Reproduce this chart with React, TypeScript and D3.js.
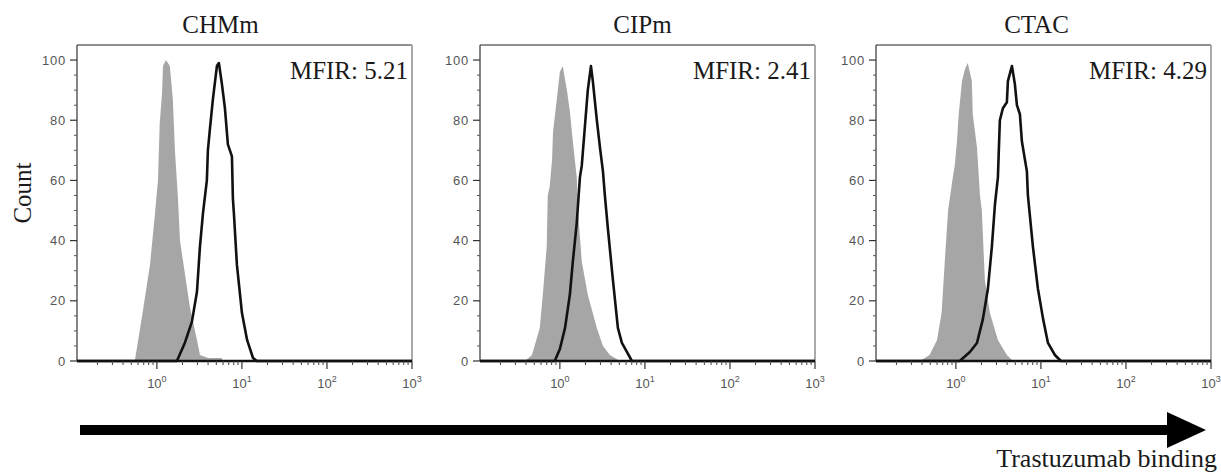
import React from "react";
import * as d3 from "d3";

// ---- data ----
const panelTitles = ["CHMm", "CIPm", "CTAC"];
const mfirValues = ["5.21", "2.41", "4.29"];

// control (grey, filled) histograms: fluorescence intensity / count (% of mode)
const chmmControlX = [0.55, 0.68, 0.83, 0.95, 1.03, 1.08, 1.15, 1.18, 1.28, 1.42, 1.54, 1.63, 1.77, 1.87, 2.44, 2.96, 3.21, 4.0, 5.82, 5.9];
const chmmControlY = [0, 16, 32, 49, 60, 79, 89, 98, 100, 98, 87, 70, 54, 40, 18, 7, 2, 1, 1, 0];
const cipmControlX = [0.39, 0.47, 0.58, 0.63, 0.70, 0.72, 0.76, 0.81, 0.83, 0.92, 1.0, 1.08, 1.21, 1.31, 1.42, 1.58, 1.63, 1.81, 2.13, 2.72, 3.21, 3.87, 5.08];
const cipmControlY = [0, 2, 11, 22, 38, 55, 58, 67, 76, 87, 96, 98, 90, 83, 73, 61, 50, 33, 22, 11, 5, 2, 0];
const ctacControlX = [0.38, 0.49, 0.60, 0.68, 0.74, 0.81, 0.92, 0.97, 1.03, 1.08, 1.18, 1.28, 1.38, 1.54, 1.58, 1.77, 1.92, 2.02, 2.19, 2.51, 3.12, 3.98, 4.69];
const ctacControlY = [0, 2, 7, 16, 33, 50, 61, 65, 73, 82, 93, 97, 99, 93, 82, 71, 55, 50, 27, 16, 7, 2, 0];

// stained (black outline) histograms
const chmmStainX = [1.72, 2.13, 2.58, 2.96, 3.21, 3.48, 3.87, 3.98, 4.2, 4.56, 5.08, 5.36, 5.82, 6.31, 6.84, 7.63, 7.83, 8.05, 8.73, 10.0, 11.5, 13.5, 15.0];
const chmmStainY = [0, 6, 13, 23, 38, 49, 60, 70, 77, 87, 98, 99, 92, 84, 72, 68, 54, 49, 32, 16, 7, 1, 0];
const cipmStainX = [0.87, 1.0, 1.15, 1.31, 1.42, 1.58, 1.72, 1.81, 1.97, 2.13, 2.32, 2.44, 2.72, 2.96, 3.21, 3.38, 3.67, 4.2, 4.81, 5.36, 6.14, 7.03];
const cipmStainY = [0, 4, 11, 22, 33, 46, 61, 65, 78, 90, 98, 93, 80, 71, 63, 55, 44, 27, 11, 6, 3, 0];
const ctacStainX = [1.11, 1.46, 1.77, 2.08, 2.38, 2.65, 2.88, 3.12, 3.29, 3.57, 3.98, 4.09, 4.56, 4.94, 5.22, 5.66, 5.97, 6.84, 7.03, 8.05, 9.22, 10.6, 12.1, 14.6, 17.2];
const ctacStainY = [0, 3, 6, 14, 24, 38, 52, 61, 80, 84, 86, 93, 98, 92, 85, 82, 73, 63, 55, 38, 24, 14, 6, 2, 0];

const controlX = [chmmControlX, cipmControlX, ctacControlX];
const controlY = [chmmControlY, cipmControlY, ctacControlY];
const stainX = [chmmStainX, cipmStainX, ctacStainX];
const stainY = [chmmStainY, cipmStainY, ctacStainY];

const yTicks = [0, 20, 40, 60, 80, 100];
const xTickExponents = [0, 1, 2, 3];
const X_MIN = 0.115;
const X_MAX = 1000;
const Y_MAX = 105;

const yLabel = "Count";
const xLabel = "Trastuzumab binding";

// ---- layout ----
const W = 1221;
const H = 472;
const panelLeft = [77, 480, 876];
const panelW = 335;
const plotTop = 45;
const plotBottom = 361;
const titleOffset = [-24, -5, -7];
const serif = "'Liberation Serif', 'Times New Roman', serif";
const sans = "'Liberation Sans', Arial, sans-serif";

function Panel({ i }: { i: number }) {
  const left = panelLeft[i];
  const right = left + panelW;
  const x = d3.scaleLog().domain([X_MIN, X_MAX]).range([left, right]);
  const y = d3.scaleLinear().domain([0, Y_MAX]).range([plotBottom, plotTop]);

  const ctrl: [number, number][] = controlX[i].map((v, k) => [v, controlY[i][k]]);
  const stain: [number, number][] = [
    [X_MIN, 0],
    ...stainX[i].map((v, k) => [v, stainY[i][k]] as [number, number]),
    [X_MAX, 0],
  ];

  const area = d3
    .area<[number, number]>()
    .x((d) => x(d[0]))
    .y0(y(0))
    .y1((d) => y(d[1]));
  const line = d3
    .line<[number, number]>()
    .x((d) => x(d[0]))
    .y((d) => y(d[1]));

  const minorX: number[] = [];
  for (const dec of [0.1, 1, 10, 100]) {
    for (let m = 2; m <= 9; m++) {
      const v = dec * m;
      if (v >= X_MIN && v <= X_MAX) minorX.push(v);
    }
  }
  const minorY: number[] = d3.range(0, 101, 5).filter((v) => v % 20 !== 0);

  const clipId = `clip${i}`;
  return (
    <g>
      <defs>
        <clipPath id={clipId}>
          <rect x={left} y={plotTop} width={panelW} height={plotBottom - plotTop + 3} />
        </clipPath>
      </defs>
      <text
        x={(left + right) / 2 + titleOffset[i]}
        y={33}
        textAnchor="middle"
        fontFamily={serif}
        fontSize={25}
        fill="#1a1a1a"
      >
        {panelTitles[i]}
      </text>
      {/* frame */}
      <line x1={left} x2={right} y1={plotTop} y2={plotTop} stroke="#222" strokeWidth={1} />
      <line x1={right} x2={right} y1={plotTop} y2={plotBottom} stroke="#aaa" strokeWidth={2} />
      <g clipPath={`url(#${clipId})`}>
        <path d={area(ctrl) || ""} fill="#a6a6a6" />
        <path d={line(stain) || ""} fill="none" stroke="#111" strokeWidth={2.6} strokeLinejoin="round" />
      </g>
      {/* y axis */}
      <line x1={left} x2={left} y1={plotTop} y2={plotBottom} stroke="#333" strokeWidth={1.2} />
      {yTicks.map((t) => (
        <g key={`yt${t}`}>
          <line x1={left - 7} x2={left} y1={y(t)} y2={y(t)} stroke="#333" strokeWidth={1.2} />
          <text
            x={left - 11}
            y={y(t)}
            dy="0.36em"
            textAnchor="end"
            fontFamily={sans}
            fontSize={13}
            letterSpacing={0.8}
            fill="#555"
          >
            {t}
          </text>
        </g>
      ))}
      {minorY.map((t) => (
        <line key={`ym${t}`} x1={left - 3} x2={left} y1={y(t)} y2={y(t)} stroke="#555" strokeWidth={1} />
      ))}
      {/* x axis */}
      <line x1={left} x2={right} y1={plotBottom} y2={plotBottom} stroke="#111" strokeWidth={2.6} />
      {xTickExponents.map((e) => {
        const v = Math.pow(10, e);
        return (
          <g key={`xt${e}`}>
            <line x1={x(v)} x2={x(v)} y1={plotBottom} y2={plotBottom + 8} stroke="#333" strokeWidth={1.2} />
            <text x={x(v)} y={388} textAnchor="middle" fontFamily={sans} fontSize={13} fill="#555">
              10
              <tspan dy={-6} fontSize={9}>
                {e}
              </tspan>
            </text>
          </g>
        );
      })}
      {minorX.map((v) => (
        <line key={`xm${v}`} x1={x(v)} x2={x(v)} y1={plotBottom} y2={plotBottom + 4} stroke="#444" strokeWidth={1} />
      ))}
      <text x={right - 4} y={79} textAnchor="end" fontFamily={serif} fontSize={25} fill="#1a1a1a">
        {`MFIR: ${mfirValues[i]}`}
      </text>
    </g>
  );
}

export default function App() {
  return (
    <>
      <style>{`body{margin:0;background:#fff}`}</style>
      <svg width={W} height={H} viewBox={`0 0 ${W} ${H}`} style={{ display: "block", background: "#fff" }}>
        {panelTitles.map((_, i) => (
          <Panel key={i} i={i} />
        ))}
        <text
          transform={`translate(31,193) rotate(-90)`}
          textAnchor="middle"
          fontFamily={serif}
          fontSize={25}
          fill="#1a1a1a"
        >
          {yLabel}
        </text>
        {/* arrow */}
        <line x1={80} x2={1170} y1={430} y2={430} stroke="#000" strokeWidth={10} />
        <path d="M1167,412 L1206,430 L1167,448 Z" fill="#000" />
        <text x={1217} y={467} textAnchor="end" fontFamily={serif} fontSize={26} fill="#1a1a1a">
          {xLabel}
        </text>
      </svg>
    </>
  );
}
